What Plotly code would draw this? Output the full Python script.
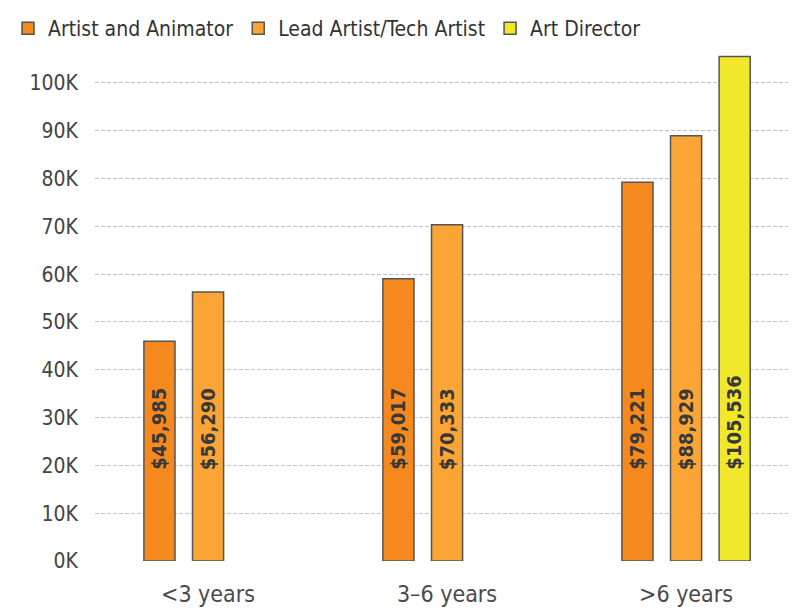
import plotly.graph_objects as go

categories = ["<3 years", "3–6 years", ">6 years"]
series_names = ["Artist and Animator", "Lead Artist/Tech Artist", "Art Director"]
artist = [45985, 59017, 79221]
lead = [56290, 70333, 88929]
director = [None, None, 105536]
tick_vals = [0, 10000, 20000, 30000, 40000, 50000, 60000, 70000, 80000, 90000, 100000]
tick_text = ["0K", "10K", "20K", "30K", "40K", "50K", "60K", "70K", "80K", "90K", "100K"]

colors = ["#F5891E", "#FBA536", "#F2E82B"]
font_family = "Liberation Sans Narrow, DejaVu Sans Condensed, Roboto, sans-serif"

fig = go.Figure()
for name, vals, col in zip(series_names, [artist, lead, director], colors):
    fig.add_trace(go.Bar(x=categories, y=vals, name=name,
                         marker=dict(color=col, line=dict(color="#555555", width=1.5))))

# value labels, rotated, anchored at a fixed height like the original
slot = 48.5
for k, vals in enumerate([artist, lead, director]):
    for cat, v in zip(categories, vals):
        if v is None:
            continue
        fig.add_annotation(x=cat, y=18600, text="<b>${:,}</b>".format(v), textangle=-90,
                           showarrow=False, yanchor="bottom", xshift=(k - 1) * slot,
                           font=dict(family=font_family, size=20, color="#383838"))

fig.update_xaxes(range=[-0.473, 2.46], showgrid=False, showline=False, ticks="",
                 automargin=False, ticklabelstandoff=17,
                 tickfont=dict(family=font_family, size=23, color="#4a4a4a"))
fig.update_yaxes(range=[0, 107100], tickvals=tick_vals, ticktext=tick_text,
                 showgrid=True, gridcolor="#bcc0c8", griddash="4px,2px", gridwidth=1,
                 zeroline=False, ticks="", ticklabelstandoff=16, automargin=False,
                 tickfont=dict(family=font_family, size=21, color="#444444"))

fig.update_layout(barmode="group", bargap=0.39, bargroupgap=0.36,
                  width=796, height=612,
                  plot_bgcolor="white", paper_bgcolor="white",
                  margin=dict(l=87, r=8, t=41, b=59),
                  legend=dict(orientation="h", xref="container", yref="container",
                              x=0, y=1, xanchor="left", yanchor="top",
                              font=dict(family=font_family, size=21, color="#333333"),
                              itemwidth=30, traceorder="normal"))

fig.write_html("out.html")
